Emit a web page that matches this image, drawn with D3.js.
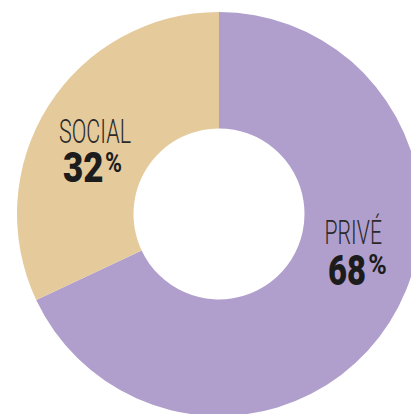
<!DOCTYPE html>
<html>
<head>
<meta charset="utf-8">
<script src="https://cdn.jsdelivr.net/npm/d3@7"></script>
<style>
  html, body { margin: 0; padding: 0; background: #fff; }
  svg { display: block; }
</style>
</head>
<body>
<svg id="chart" width="411" height="414"></svg>
<script>
const categories = ["PRIVÉ", "SOCIAL"];
const values = [68, 32];
const colors = ["#B09FCC", "#E5CA9C"];

const svg = d3.select("#chart");
const cx = 219, cy = 214, outerR = 202, innerR = 85.5;

const pie = d3.pie().sort(null).value(d => d.value);
const arc = d3.arc().innerRadius(innerR).outerRadius(outerR);
const data = categories.map((c, i) => ({ name: c, value: values[i], color: colors[i] }));

const g = svg.append("g").attr("transform", `translate(${cx},${cy})`);
g.selectAll("path").data(pie(data)).join("path")
  .attr("d", arc)
  .attr("fill", d => d.data.color);

// label layout (absolute positions)
const labelPos = {
  "SOCIAL": { x: 59, nameY: 142.5, nameW: 72, numX: 63, numY: 182, numW: 40.5, pctX: 105, pctY: 172, pctW: 17 },
  "PRIVÉ":  { x: 324.5, nameY: 243.5, nameW: 57.5, numX: 328, numY: 285.3, numW: 38, pctX: 368.3, pctY: 273.5, pctW: 18.5 }
};

data.forEach(d => {
  const p = labelPos[d.name];
  svg.append("text")
    .attr("x", p.x).attr("y", p.nameY)
    .attr("font-family", "Roboto, 'Open Sans', sans-serif")
    .attr("font-weight", 300)
    .attr("font-size", 34)
    .attr("fill", "#2a2a2a")
    .attr("textLength", p.nameW)
    .attr("lengthAdjust", "spacingAndGlyphs")
    .text(d.name);
  svg.append("text")
    .attr("x", p.numX).attr("y", p.numY)
    .attr("font-family", "Roboto, 'Open Sans', sans-serif")
    .attr("font-weight", 900)
    .attr("font-size", 42)
    .attr("fill", "#1c1c1c")
    .attr("textLength", p.numW)
    .attr("lengthAdjust", "spacingAndGlyphs")
    .text(d.value);
  svg.append("text")
    .attr("x", p.pctX).attr("y", p.pctY)
    .attr("font-family", "Roboto, 'Open Sans', sans-serif")
    .attr("font-weight", 700)
    .attr("font-size", 27)
    .attr("fill", "#1c1c1c")
    .attr("textLength", p.pctW)
    .attr("lengthAdjust", "spacingAndGlyphs")
    .text("%");
});
</script>
</body>
</html>
